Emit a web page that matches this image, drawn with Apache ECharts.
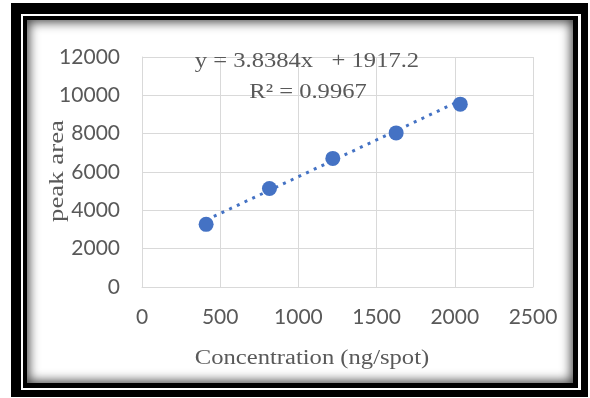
<!DOCTYPE html>
<html>
<head>
<meta charset="utf-8">
<script src="https://cdn.jsdelivr.net/npm/echarts@6/dist/echarts.min.js"></script>
<style>
  html, body { margin: 0; padding: 0; background: #fff; width: 590px; height: 398px; overflow: hidden; }
  .fr { position: absolute; }
  #f1 { left: 11px; top: 3px; width: 577px; height: 394px; background: #000; }
  #f2 { left: 21px; top: 14px; width: 560px; height: 376px; background: #fff; }
  #f3 { left: 23px; top: 16px; width: 555px; height: 372px; background: #000; }
  #f4 { left: 27px; top: 20px; width: 546px; height: 363px; background: #fff; box-shadow: inset 0 0 11px 2px rgba(0,0,0,0.75); }
  #chart { position: absolute; left: 0; top: 0; width: 590px; height: 398px; }
</style>
</head>
<body>
<div class="fr" id="f1"></div>
<div class="fr" id="f2"></div>
<div class="fr" id="f3"></div>
<div class="fr" id="f4"></div>
<div id="chart"></div>
<script>
// ---- data ----
const concentration = [410, 815, 1220, 1625, 2035];   // ng/spot
const peakArea = [3270, 5140, 6710, 8040, 9540];
const trendSlope = 3.8384;
const trendIntercept = 1917.2;
const equationText = 'y = 3.8384x   + 1917.2';
const r2Text = 'R\u00B2 = 0.9967';
const xAxisTitle = 'Concentration (ng/spot)';
const yAxisTitle = 'peak area';
const xRange = [0, 2500, 500];
const yRange = [0, 12000, 2000];

const points = concentration.map((c, i) => [c, peakArea[i]]);
const xMinData = Math.min(...concentration), xMaxData = Math.max(...concentration);
const trendPoints = [xMinData, xMaxData].map(x => [x, trendSlope * x + trendIntercept]);

const blue = '#4472c4';
const labelColor = '#595959';
const gridColor = '#d9d9d9';
const serif = '"Liberation Serif", "Times New Roman", serif';
const plain = v => String(v);

const chart = echarts.init(document.getElementById('chart'), null, { renderer: 'canvas' });
chart.setOption({
  backgroundColor: 'transparent',
  animation: false,
  grid: { left: 142, right: 57, top: 57, bottom: 111, containLabel: false },
  xAxis: {
    type: 'value', min: xRange[0], max: xRange[1], interval: xRange[2],
    axisLine: { show: true, lineStyle: { color: gridColor, width: 1 } },
    axisTick: { show: false },
    splitLine: { show: true, lineStyle: { color: gridColor, width: 1 } },
    axisLabel: { color: labelColor, fontFamily: 'Lato', fontSize: 21, margin: 20, formatter: plain }
  },
  yAxis: {
    type: 'value', min: yRange[0], max: yRange[1], interval: yRange[2],
    axisLine: { show: true, lineStyle: { color: gridColor, width: 1 } },
    axisTick: { show: false },
    splitLine: { show: true, lineStyle: { color: gridColor, width: 1 } },
    axisLabel: { color: labelColor, fontFamily: 'Lato', fontSize: 21, margin: 22, formatter: plain }
  },
  series: [
    {
      type: 'line', data: trendPoints, showSymbol: false, symbol: 'none',
      lineStyle: { color: blue, width: 3, type: [3, 5.5], cap: 'butt' },
      z: 2, silent: true
    },
    {
      type: 'scatter', data: points, symbol: 'circle', symbolSize: 15,
      itemStyle: { color: blue, opacity: 1 }, z: 3
    }
  ],
  graphic: [
    { type: 'text', x: 307, y: 61, scaleX: 1.17, z: 100,
      style: { text: equationText, font: '21px ' + serif, fill: labelColor, textAlign: 'center', textVerticalAlign: 'middle' } },
    { type: 'text', x: 308, y: 92, scaleX: 1.17, z: 100,
      style: { text: r2Text, font: '21px ' + serif, fill: labelColor, textAlign: 'center', textVerticalAlign: 'middle' } },
    { type: 'text', x: 312, y: 359, scaleX: 1.23, z: 100,
      style: { text: xAxisTitle, font: '20px ' + serif, fill: labelColor, textAlign: 'center', textVerticalAlign: 'middle' } },
    { type: 'text', x: 57, y: 171, rotation: Math.PI / 2, scaleX: 1.22, z: 100,
      style: { text: yAxisTitle, font: '22px ' + serif, fill: labelColor, textAlign: 'center', textVerticalAlign: 'middle' } }
  ]
});
</script>
</body>
</html>
